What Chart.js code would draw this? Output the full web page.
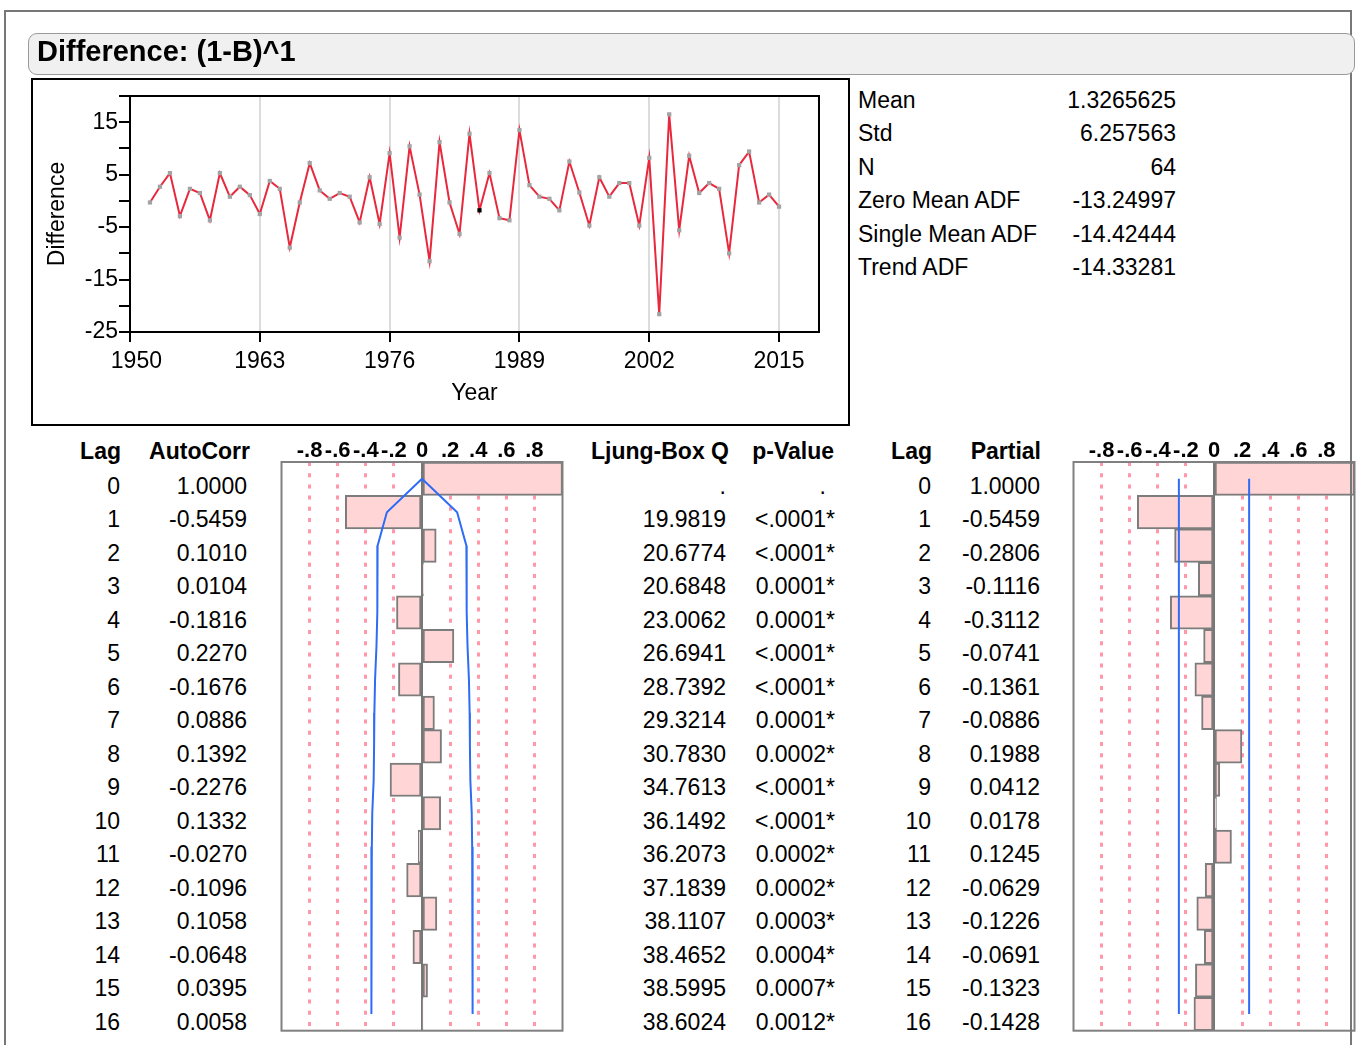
<!DOCTYPE html>
<html>
<head>
<meta charset="utf-8">
<script src="https://cdn.jsdelivr.net/npm/chart.js@4.4.1/dist/chart.umd.min.js"></script>
<style>
  html, body { margin: 0; padding: 0; background: #fff; }
  body { position: relative; width: 1356px; height: 1045px; overflow: hidden;
         font-family: "Liberation Sans", Arial, Helvetica, sans-serif; color: #000; }
  .abs { position: absolute; }
  #frame { left: 4px; top: 10px; width: 1348px; height: 1100px; border: 2px solid #777;
           box-sizing: border-box; z-index: 5; pointer-events: none; }
  #titlebar { left: 28px; top: 33px; width: 1327px; height: 42px; background: #f0f0f0;
              border: 1.5px solid #9a9a9a; border-radius: 9px; box-sizing: border-box;
              font-weight: bold; font-size: 29px; line-height: 35px; padding-left: 8px; z-index: 6; }
  #plotbox { left: 31px; top: 78px; width: 819px; height: 348px; border: 2px solid #000; box-sizing: border-box; }
  canvas { position: absolute; }
  .txt { position: absolute; font-size: 23px; line-height: 34px; white-space: nowrap; }
  .b { font-weight: bold; }
  .star { position: absolute; left: 100%; top: 0; }
</style>
</head>
<body>
<div id="frame" class="abs"></div>
<div id="titlebar" class="abs">Difference: (1-B)^1</div>
<div id="plotbox" class="abs"></div>
<canvas id="diffChart" width="814" height="343" style="left:33px; top:80px;"></canvas>
<canvas id="acfChart" width="300" height="608" style="left:270px; top:432px;"></canvas>
<canvas id="pacfChart" width="294" height="608" style="left:1062px; top:432px;"></canvas>

<script>
const FONT = '"Liberation Sans", Arial, Helvetica, sans-serif';

// differenced series
const years = [1952, 1953, 1954, 1955, 1956, 1957, 1958, 1959, 1960, 1961, 1962, 1963, 1964, 1965, 1966, 1967,
               1968, 1969, 1970, 1971, 1972, 1973, 1974, 1975, 1976, 1977, 1978, 1979, 1980, 1981, 1982, 1983,
               1984, 1985, 1986, 1987, 1988, 1989, 1990, 1991, 1992, 1993, 1994, 1995, 1996, 1997, 1998, 1999,
               2000, 2001, 2002, 2003, 2004, 2005, 2006, 2007, 2008, 2009, 2010, 2011, 2012, 2013, 2014, 2015];
const diffValues = [-0.3, 2.7, 5.3, -2.9, 2.3, 1.5, -3.7, 5.3, 0.8, 2.7, 1.1, -2.5, 3.8, 2.3, -8.9, -0.3,
                    7.2, 2.0, 0.4, 1.5, 0.8, -4.1, 4.5, -4.4, 9.1, -7.0, 10.4, 1.2, -11.5, 11.2, -0.3, -6.3,
                    12.8, -1.8, 5.3, -3.3, -3.7, 13.5, 3.0, 0.8, 0.4, -1.8, 7.5, 1.6, -4.7, 4.5, 0.8, 3.4,
                    3.4, -4.7, 8.2, -21.6, 16.5, -5.6, 8.6, 1.5, 3.4, 2.3, -10.0, 6.8, 9.4, -0.3, 1.2, -1.1];
const selectedYear = 1985;
const xTickYears = [1950, 1963, 1976, 1989, 2002, 2015];
const yTickValues = [-25, -20, -15, -10, -5, 0, 5, 10, 15, 20];
const yTickLabels = [-25, -15, -5, 5, 15];

const statNames = ['Mean', 'Std', 'N', 'Zero Mean ADF', 'Single Mean ADF', 'Trend ADF'];
const statValues = ['1.3265625', '6.257563', '64', '-13.24997', '-14.42444', '-14.33281'];

const lags = ['0', '1', '2', '3', '4', '5', '6', '7', '8', '9', '10', '11', '12', '13', '14', '15', '16'];
const autoCorr = [1.0000, -0.5459, 0.1010, 0.0104, -0.1816, 0.2270, -0.1676, 0.0886, 0.1392,
                  -0.2276, 0.1332, -0.0270, -0.1096, 0.1058, -0.0648, 0.0395, 0.0058];
const ljungBoxQ = [null, 19.9819, 20.6774, 20.6848, 23.0062, 26.6941, 28.7392, 29.3214, 30.7830,
                   34.7613, 36.1492, 36.2073, 37.1839, 38.1107, 38.4652, 38.5995, 38.6024];
const pValues = ['.', '<.0001*', '<.0001*', '0.0001*', '0.0001*', '<.0001*', '<.0001*', '0.0001*', '0.0002*',
                 '<.0001*', '<.0001*', '0.0002*', '0.0002*', '0.0003*', '0.0004*', '0.0007*', '0.0012*'];
const acfLimit = [0, 0.25, 0.316, 0.318, 0.318, 0.324, 0.334, 0.339, 0.341,
                  0.344, 0.354, 0.357, 0.357, 0.359, 0.361, 0.362, 0.362];
const partialCorr = [1.0000, -0.5459, -0.2806, -0.1116, -0.3112, -0.0741, -0.1361, -0.0886, 0.1988,
                     0.0412, 0.0178, 0.1245, -0.0629, -0.1226, -0.0691, -0.1323, -0.1428];
const pacfLimit = 0.25;
const corrTicks = [-0.8, -0.6, -0.4, -0.2, 0, 0.2, 0.4, 0.6, 0.8];

const boxPlugin = (color, width) => ({
    id: 'box',
    afterDraw(chart) {
        const { ctx, chartArea: a } = chart;
        ctx.save();
        ctx.strokeStyle = color;
        ctx.lineWidth = width;
        ctx.strokeRect(a.left, a.top, a.width, a.height);
        ctx.restore();
    }
});

// time series plot
new Chart(document.getElementById('diffChart'), {
    type: 'line',
    data: {
        datasets: [{
            data: years.map((y, i) => ({ x: y, y: diffValues[i] })),
            borderColor: '#e8283d',
            borderWidth: 2,
            tension: 0,
            pointStyle: 'rect',
            pointRadius: 3,
            pointBorderWidth: 0,
            pointBackgroundColor: years.map(y => y === selectedYear ? '#000' : '#a3a3a3')
        }]
    },
    options: {
        responsive: false,
        animation: false,
        layout: { padding: { left: 0, right: 28, top: 16, bottom: 0 } },
        plugins: { legend: { display: false }, tooltip: { enabled: false } },
        scales: {
            x: {
                type: 'linear', min: 1950, max: 2019,
                afterBuildTicks: s => { s.ticks = xTickYears.map(v => ({ value: v })); },
                afterFit: s => { s.height = 91; },
                grid: { color: '#dcdcdc', lineWidth: 2, tickColor: '#000', tickLength: 10, tickWidth: 2 },
                border: { color: '#000', width: 2 },
                ticks: { color: '#000', font: { size: 23, family: FONT }, padding: 6, maxRotation: 0,
                         autoSkip: false, callback: v => v === xTickYears[0] ? '  ' + v : String(v) },
                title: { display: true, text: 'Year', color: '#000', font: { size: 23, family: FONT },
                         padding: { top: 0, bottom: 16 } }
            },
            y: {
                min: -25, max: 20,
                afterBuildTicks: s => { s.ticks = yTickValues.map(v => ({ value: v })); },
                afterFit: s => { s.width = 97; },
                grid: { drawOnChartArea: false, color: '#000', lineWidth: 2, tickLength: 11 },
                border: { color: '#000', width: 2 },
                ticks: { color: '#000', font: { size: 23, family: FONT }, padding: 1, autoSkip: false,
                         callback: v => yTickLabels.includes(v) ? String(v) : '' },
                title: { display: true, text: 'Difference', color: '#000', font: { size: 23, family: FONT },
                         padding: { top: 11, bottom: 0 } }
            }
        }
    },
    plugins: [boxPlugin('#000', 2)]
});

const fmtCorrTick = v => v === 0 ? '0' : (v < 0 ? '-' : '') + '.' + Math.round(Math.abs(v) * 10);

function corrChart(id, values, upper, lower, padLeft, padRight) {
    const lineDs = d => ({ type: 'line', data: d, indexAxis: 'y', borderColor: '#2e6cf5', borderWidth: 2,
                           pointRadius: 0, tension: 0, order: 1 });
    new Chart(document.getElementById(id), {
        type: 'bar',
        data: {
            labels: lags,
            datasets: [
                lineDs(upper),
                lineDs(lower),
                { type: 'bar', data: values, backgroundColor: '#ffd5d6', borderColor: '#7c7c7c', borderWidth: 2,
                  borderSkipped: false, barPercentage: 1, categoryPercentage: 1, order: 2 }
            ]
        },
        options: {
            indexAxis: 'y',
            responsive: false,
            animation: false,
            layout: { padding: { left: padLeft, right: padRight, top: 0, bottom: 9.3 } },
            plugins: { legend: { display: false }, tooltip: { enabled: false } },
            scales: {
                x: {
                    type: 'linear', position: 'top', min: -1, max: 1,
                    afterBuildTicks: s => { s.ticks = corrTicks.map(v => ({ value: v })); },
                    afterFit: s => { s.height = 30; },
                    grid: {
                        drawTicks: false,
                        color: c => c.tick && c.tick.value === 0 ? '#777' : '#ff97a8',
                        lineWidth: c => c.tick && c.tick.value === 0 ? 2 : 3
                    },
                    border: { display: false, dash: c => c.tick && c.tick.value === 0 ? [] : [4, 7.2] },
                    ticks: { color: '#000', padding: 0, maxRotation: 0, autoSkip: false,
                             font: { size: 22, weight: 'bold', family: FONT, lineHeight: 1.05 },
                             callback: v => fmtCorrTick(v) }
                },
                y: { type: 'category', display: false, offset: true }
            }
        },
        plugins: [boxPlugin('#808080', 2)]
    });
}

corrChart('acfChart', autoCorr, acfLimit, acfLimit.map(v => -v), 11.5, 7.5);
corrChart('pacfChart', partialCorr, lags.map(() => pacfLimit), lags.map(() => -pacfLimit), 11.5, 1.5);

// text tables
function putText(txt, edge, cy, opts = {}) {
    const d = document.createElement('div');
    d.className = 'txt' + (opts.bold ? ' b' : '');
    if (opts.left) d.style.left = edge + 'px';
    else d.style.right = (1356 - edge) + 'px';
    d.style.top = (cy - 17) + 'px';
    d.textContent = txt;
    document.body.appendChild(d);
    return d;
}

statNames.forEach((n, i) => {
    const cy = 100 + i * 33.4;
    putText(n, 858, cy, { left: true });
    putText(statValues[i], 1176, cy);
});

const headY = 451;
putText('Lag', 121, headY, { bold: true });
putText('AutoCorr', 250, headY, { bold: true });
putText('Ljung-Box Q', 729, headY, { bold: true });
putText('p-Value', 834, headY, { bold: true });
putText('Lag', 932, headY, { bold: true });
putText('Partial', 1041, headY, { bold: true });

lags.forEach((lag, i) => {
    const cy = 485.5 + i * 33.5;
    putText(lag, 120, cy);
    putText(autoCorr[i].toFixed(4), 247, cy);
    putText(ljungBoxQ[i] === null ? '.' : ljungBoxQ[i].toFixed(4), 726, cy);
    const p = pValues[i];
    const cell = putText(p.replace('*', ''), 826, cy);
    if (p.endsWith('*')) {
        const s = document.createElement('span');
        s.className = 'star';
        s.textContent = '*';
        cell.appendChild(s);
    }
    putText(lag, 931, cy);
    putText(partialCorr[i].toFixed(4), 1040, cy);
});
</script>
</body>
</html>
